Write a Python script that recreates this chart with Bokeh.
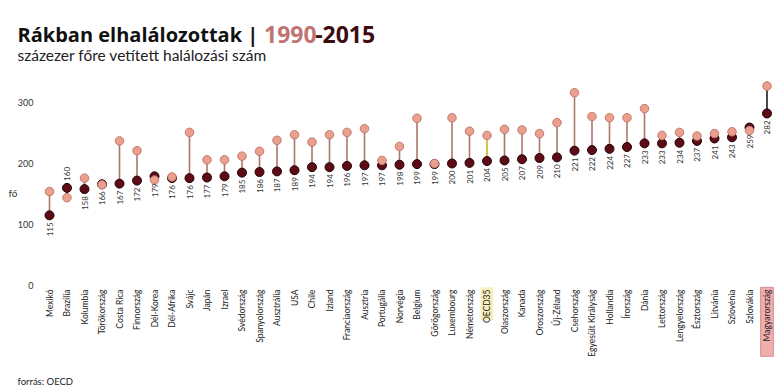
import math
from bokeh.plotting import figure
from bokeh.models import ColumnDataSource, FixedTicker, Range1d
from bokeh.core.properties import value, field
from bokeh.embed import file_html
from bokeh.resources import INLINE

countries = ["Mexikó", "Brazília", "Kolumbia", "Törökország", "Costa Rica", "Finnország",
             "Dél-Korea", "Dél-Afrika", "Svájc", "Japán", "Izrael", "Svédország",
             "Spanyolország", "Ausztrália", "USA", "Chile", "Izland", "Franciaország",
             "Ausztria", "Portugália", "Norvégia", "Belgium", "Görögország", "Luxembourg",
             "Németország", "OECD35", "Olaszország", "Kanada", "Oroszország", "Új-Zéland",
             "Csehország", "Egyesült Királyság", "Hollandia", "Írország", "Dánia",
             "Lettország", "Lengyelország", "Észtország", "Litvánia", "Szlovénia",
             "Szlovákia", "Magyarország"]
v2015 = [115, 160, 158, 166, 167, 172, 179, 176, 176, 177, 179, 185, 186, 187, 189, 194,
         194, 196, 197, 197, 198, 199, 199, 200, 201, 204, 205, 207, 209, 210, 221, 222,
         224, 227, 233, 233, 234, 237, 241, 243, 259, 282]
v1990 = [154, 144, 176, 165, 237, 221, 173, 178, 251, 206, 206, 212, 220, 238, 247, 235,
         247, 251, 257, 205, 228, 274, 200, 275, 253, 246, 256, 255, 249, 267, 316, 277,
         275, 275, 290, 246, 251, 245, 249, 252, 254, 327]
y_ticks = [0, 100, 200, 300]
unit_label = "fő"
title_main = "Rákban elhalálozottak |"
title_y1 = "1990"
title_y2 = "-2015"
subtitle = "százezer főre vetített halálozási szám"
source_note = "forrás: OECD"

FONT = "Lato"
n = len(countries)
xs = list(range(n))

line_colors = ["#d4b21a" if c == "OECD35" else "#1c1c1c" if c == "Magyarország" else "#ab776c"
               for c in countries]
above = [a < b - 8 for a, b in zip(v1990, v2015)]
src = ColumnDataSource(dict(
    x=xs, c=countries, a=v1990, b=v2015, lc=line_colors,
    lab=[str(v) for v in v2015],
    al=["left" if f else "right" for f in above],
    off=[-7 if f else 7 for f in above],
    ly=[-6.6] * n,
))

# the frame covers the whole canvas; 1 x-unit = one country column (17.5 px)
p = figure(width=784, height=392, x_range=Range1d(-2.8, 42.0), y_range=Range1d(-175.4, 467.2),
           min_border=0, x_axis_location=None, output_backend="svg", toolbar_location=None,
           outline_line_color=None, background_fill_color="white")
p.grid.visible = False

ya = p.yaxis[0]
ya.ticker = FixedTicker(ticks=y_ticks)
ya.axis_line_color = None
ya.major_tick_line_color = None
ya.minor_tick_line_color = None
ya.major_tick_out = 0
ya.major_tick_in = 0
ya.minor_tick_out = 0
ya.minor_tick_in = 0
ya.major_label_text_font = FONT
ya.major_label_text_font_size = "9px"
ya.major_label_text_color = "#333333"
ya.major_label_standoff = -33

# highlight boxes behind two labels
i_oecd = countries.index("OECD35")
i_hu = countries.index("Magyarország")
p.vbar(x=[xs[i_oecd]], top=-3, bottom=-57, width=0.72, fill_color="#f8efbb", line_color=None)
p.vbar(x=[xs[i_hu]], top=-3, bottom=-116, width=0.72, fill_color="#f2aeac",
       line_color="#cf8b88", line_width=1)

p.segment(x0="x", y0="a", x1="x", y1="b", line_color="lc", line_width=1.6, source=src)
p.scatter(x="x", y="b", size=9, fill_color="#5e0b16", line_color="#1e0306", line_width=1, source=src)
p.scatter(x="x", y="a", size=8.5, fill_color="#eba08f", line_color="#c27a6a", line_width=1, source=src)

p.text(x="x", y="b", text="lab", angle=math.pi / 2, text_align=field("al"),
       text_baseline="middle", y_offset="off", text_font=value(FONT),
       text_font_size="8px", text_color="#333333", source=src)

p.text(x="x", y="ly", text="c", angle=math.pi / 2, text_align="right",
       text_baseline="middle", text_font=value(FONT), text_font_size="8.5px",
       text_color="#222222", source=src)

def txt(x, y, t, size, color="#111111", style="normal", font=FONT, baseline="alphabetic"):
    p.text(x=[x], y=[y], text=[t], text_font=value(font), text_font_size=size,
           text_font_style=style, text_color=color, text_baseline=baseline)

txt(-1.829, 411.5, title_main, "20px", style="bold", font="Open Sans")
txt(12.26, 411.5, title_y1, "23px", color="#c07472", style="bold", font="Open Sans")
txt(15.18, 411.5, title_y2, "23px", color="#3c0c12", style="bold", font="Open Sans")
txt(-1.829, 377.9, subtitle, "15.5px", color="#222222")
txt(-1.829, -157.4, source_note, "9.5px", color="#222222")
txt(-2.343, 151, unit_label, "10px", color="#333333", baseline="middle")

open("out.html", "w").write(file_html(p, INLINE))
